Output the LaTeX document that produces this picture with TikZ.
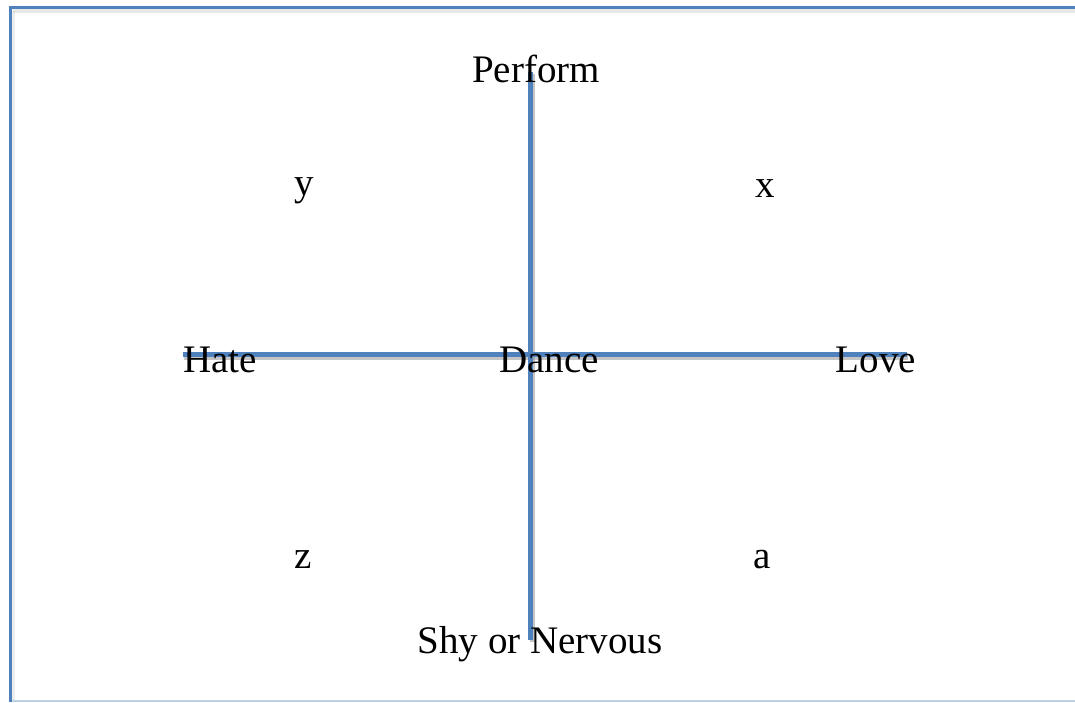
\documentclass[tikz,border=0pt]{standalone}
\usepackage{fontspec}
\setmainfont{Liberation Serif}
\definecolor{axisblue}{RGB}{79,129,189}
\definecolor{lightblue}{RGB}{190,208,230}
\definecolor{shadowgrey}{RGB}{140,140,140}
\tikzset{
  lbl/.style={anchor=base, inner sep=0pt, font=\fontsize{39}{44}\selectfont, text=black},
  axisline/.style={draw=axisblue, line width=5pt},
  axisshadow/.style={draw=shadowgrey, line width=5pt, opacity=0.5},
  frameline/.style={draw=axisblue, line width=3pt}
}
\begin{document}
\begin{tikzpicture}[x=1pt,y=-1pt]
\useasboundingbox (0,0) rectangle (1075,702);
\fill[white] (0,0) rectangle (1075,702);
\begin{scope}
\clip (0,0) rectangle (1075,702);
% frame shadow
\draw[draw=shadowgrey, line width=4pt, opacity=0.2] (13,11) -- (1085,11);
\draw[draw=shadowgrey, line width=3pt, opacity=0.15] (13,11) -- (13,700);
\draw[draw=lightblue, line width=2pt] (10,701) -- (1085,701);
\draw[frameline] (1085,7) -- (10,7) -- (10,702);
\end{scope}
% axis coordinates
\coordinate (top) at (530,72);
\coordinate (bot) at (530,640);
\coordinate (left) at (183,354);
\coordinate (right) at (907,354);
% shadows
\draw[axisshadow] ([xshift=1pt,yshift=-3pt]left) -- ([xshift=1pt,yshift=-3pt]right);
\draw[axisshadow] ([xshift=2pt,yshift=-2pt]top) -- ([xshift=2pt,yshift=-2pt]bot);
% axes
\draw[axisline] (left) -- (right);
\draw[axisline] (top) -- (bot);
% labels
\node[lbl] (perform) at (536,82) {Perform};
\node[lbl] (dance) at (549,372) {Dance};
\node[lbl] (hate) at (220,372) {Hate};
\node[lbl] (love) at (876,372) {Love};
\node[lbl] (shy) at (540,653) {Shy or Nervous};
\node[lbl] (ly) at (304,195) {y};
\node[lbl] (lx) at (765,197) {x};
\node[lbl] (lz) at (303,568) {z};
\node[lbl] (la) at (762,568) {a};
\end{tikzpicture}
\end{document}
